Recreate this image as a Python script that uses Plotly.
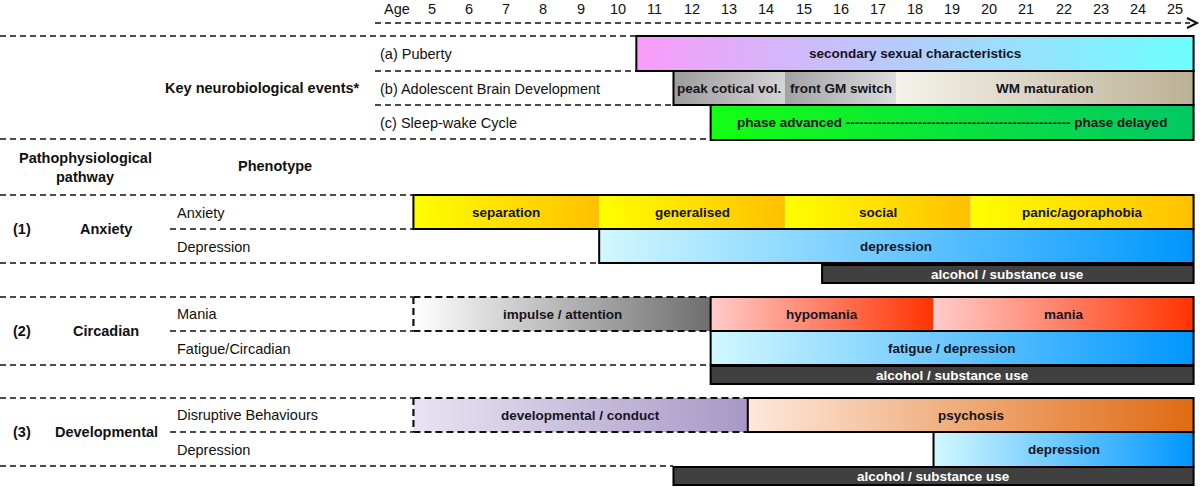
import plotly.graph_objects as go

# ---------------- data ----------------
ages = list(range(5, 26))
tick_labels = [str(a) for a in ages]

bar_rows = ["puberty", "brain", "brain", "brain", "sleep",
            "anx", "anx", "anx", "anx", "dep1", "alc1",
            "mania", "mania", "mania", "fat", "alc2",
            "disr", "disr", "dep3", "alc3"]
bar_labels = ["secondary sexual characteristics",
              "peak cotical vol.", "front GM switch", "WM maturation",
              "phase advanced " + "-" * 50 + " phase delayed",
              "separation", "generalised", "social", "panic/agoraphobia",
              "depression", "alcohol / substance use",
              "impulse / attention", "hypomania", "mania",
              "fatigue / depression", "alcohol / substance use",
              "developmental / conduct", "psychosis", "depression",
              "alcohol / substance use"]
bar_start = [10.5, 11.5, 14.5, 17.5, 12.5,
             4.5, 9.5, 14.5, 19.5, 9.5, 15.5,
             4.5, 12.5, 18.5, 12.5, 12.5,
             4.5, 13.5, 18.5, 11.5]
bar_end = [25.5, 14.5, 17.5, 25.5, 25.5,
           9.5, 14.5, 19.5, 25.5, 25.5, 25.5,
           12.5, 18.5, 25.5, 25.5, 25.5,
           13.5, 25.5, 25.5, 25.5]
color_left = ["#F99CF9", "#9C9C9C", "#A2A2A2", "#F4F2EA", "#14FF14",
              "#FFFF00", "#FFFF00", "#FFFF00", "#FFFF00", "#D2F8FF", "#404040",
              "#FFFFFF", "#FFCCCC", "#FFCCCC", "#D2F8FF", "#404040",
              "#E8E4F2", "#FDE8DC", "#D2F8FF", "#404040"]
color_right = ["#6CFFFF", "#D4D4D4", "#DCDCDC", "#BBB194", "#00C864",
               "#FFC000", "#FFC000", "#FFC000", "#FFC000", "#0096FF", "#404040",
               "#6E6E6E", "#FF3300", "#FF3300", "#0096FF", "#404040",
               "#A898C6", "#E06A10", "#0096FF", "#404040"]
bar_border = ["solid"] * 11 + ["dashed"] + ["solid"] * 4 + ["dashed"] + ["solid"] * 3

# ---------------- layout geometry (pixels) ----------------
W, H = 1200, 487
PX5, PXY = 432.0, 37.15          # pixel of age 5, pixels per year
x_lo = 5 - PX5 / PXY
x_hi = 5 + (W - PX5) / PXY


def px(p):
    return x_lo + p / PXY


row_box = {
    "puberty": (36, 71), "brain": (71, 105), "sleep": (105, 140),
    "anx": (195, 229), "dep1": (229, 263), "alc1": (265, 283),
    "mania": (297, 331), "fat": (331, 365), "alc2": (366, 384),
    "disr": (398, 432), "dep3": (432, 467), "alc3": (467, 485),
}

FONT = "Liberation Sans, Arial, Helvetica, sans-serif"
BAR_FS = 13.5
LAB_FS = 14.5
fig = go.Figure()
shapes = []
annotations = []

DASH = "6px,4px"

# dashed guide lines (x from px, y in px), drawn below bars
guides = [
    (375, 1190, 23), (0, 636, 36), (375, 673, 71), (375, 710, 105), (0, 710, 139),
    (0, 413, 195), (170, 413, 229), (0, 599, 263),
    (0, 413, 297), (170, 413, 331), (0, 710, 365),
    (0, 413, 398), (170, 413, 432), (0, 673, 466),
]
for x0, x1, y in guides:
    shapes.append(dict(type="line", xref="x", yref="y", x0=px(x0), x1=px(x1), y0=y, y1=y,
                       line=dict(color="#111111", width=1.3, dash=DASH), layer="below"))
# arrow head
ax_ = px(1197)
shapes.append(dict(type="path", xref="x", yref="y",
                   path=f"M {px(1187)} 18 L {ax_} 23 L {px(1187)} 28",
                   line=dict(color="#111111", width=2), layer="above"))

# bar fills
for r, lab, s, e, c0, c1, b in zip(bar_rows, bar_labels, bar_start, bar_end,
                                   color_left, color_right, bar_border):
    top, bot = row_box[r]
    fig.add_trace(go.Scatter(
        x=[s, e, e, s, s], y=[top, top, bot, bot, top], mode="lines",
        line=dict(width=0, color="rgba(0,0,0,0)"), fill="toself",
        fillgradient=dict(type="horizontal", colorscale=[[0, c0], [1, c1]]),
        hoverinfo="skip", showlegend=False))
    is_alc = r.startswith("alc")
    annotations.append(dict(x=(s + e) / 2, y=(top + bot) / 2, xref="x", yref="y",
                            text=f"<b>{lab}</b>", showarrow=False,
                            font=dict(family=FONT, size=BAR_FS,
                                      color="#FFFFFF" if is_alc else "#15151f"),
                            xanchor="center", yanchor="middle"))

# outlines: merge consecutive solid segments per row
for r in row_box:
    segs = sorted([(s, e, b) for rr, s, e, b in zip(bar_rows, bar_start, bar_end, bar_border) if rr == r])
    top, bot = row_box[r]
    groups = []
    for s, e, b in segs:
        if b == "solid" and groups and groups[-1][2] == "solid" and abs(groups[-1][1] - s) < 1e-9:
            groups[-1][1] = e
        else:
            groups.append([s, e, b])
    for s, e, b in groups:
        if b == "solid":
            shapes.append(dict(type="rect", xref="x", yref="y", x0=s, x1=e, y0=top, y1=bot,
                               line=dict(color="#000000", width=2), fillcolor="rgba(0,0,0,0)",
                               layer="above"))
        else:
            for (xa, ya, xb, yb) in [(s, top, e, top), (s, bot, e, bot), (s, top, s, bot)]:
                shapes.append(dict(type="line", xref="x", yref="y", x0=xa, x1=xb, y0=ya, y1=yb,
                                   line=dict(color="#111111", width=2.2, dash="7px,4px"),
                                   layer="above"))

# age ticks
annotations.append(dict(x=px(397), y=9, xref="x", yref="y", text="Age", showarrow=False,
                        font=dict(family=FONT, size=LAB_FS, color="#111111")))
for a, t in zip(ages, tick_labels):
    annotations.append(dict(x=a, y=9, xref="x", yref="y", text=t, showarrow=False,
                            font=dict(family=FONT, size=LAB_FS, color="#111111")))


# left-hand text
def label(xp, y, text, bold=False, anchor="left", size=LAB_FS):
    annotations.append(dict(x=px(xp), y=y, xref="x", yref="y",
                            text=f"<b>{text}</b>" if bold else text, showarrow=False,
                            xanchor=anchor, yanchor="middle",
                            font=dict(family=FONT, size=size, color="#111111")))


label(362, 88, "Key neurobiological events*", bold=True, anchor="right")
label(378, 54, "(a) Puberty")
label(378, 89, "(b) Adolescent Brain Development")
label(378, 123, "(c) Sleep-wake Cycle")
label(85, 158, "Pathophysiological", bold=True, anchor="center")
label(85, 177, "pathway", bold=True, anchor="center")
label(275, 166, "Phenotype", bold=True, anchor="center")

label(22, 229, "(1)", bold=True, anchor="center")
label(106, 229, "Anxiety", bold=True, anchor="center")
label(175, 213, "Anxiety")
label(175, 247, "Depression")

label(22, 331, "(2)", bold=True, anchor="center")
label(106, 331, "Circadian", bold=True, anchor="center")
label(175, 314, "Mania")
label(175, 349, "Fatigue/Circadian")

label(22, 432, "(3)", bold=True, anchor="center")
label(106, 432, "Developmental", bold=True, anchor="center")
label(175, 415, "Disruptive Behaviours")
label(175, 450, "Depression")

fig.update_layout(
    width=W, height=H, margin=dict(l=0, r=0, t=0, b=0),
    paper_bgcolor="white", plot_bgcolor="white",
    xaxis=dict(range=[x_lo, x_hi], visible=False, fixedrange=True),
    yaxis=dict(range=[H, 0], visible=False, fixedrange=True),
    shapes=shapes, annotations=annotations, showlegend=False,
)
fig.write_html("out.html", config={"displayModeBar": False},
               post_script="document.body.style.margin='0';document.body.style.overflow='hidden';")
